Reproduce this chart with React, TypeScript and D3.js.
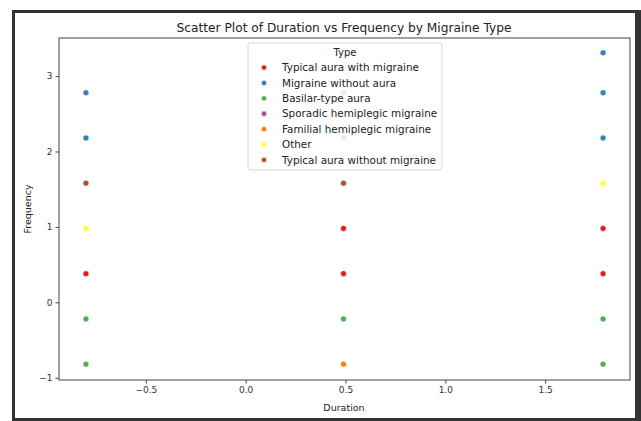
import React, { useEffect, useRef } from 'react';
import * as d3 from 'd3';

// legend categories, in seaborn hue order
const types = [
  'Typical aura with migraine',
  'Migraine without aura',
  'Basilar-type aura',
  'Sporadic hemiplegic migraine',
  'Familial hemiplegic migraine',
  'Other',
  'Typical aura without migraine',
];
const typeColors = ['#e41a1c', '#377eb8', '#4daf4a', '#984ea3', '#ff7f00', '#ffff33', '#a65628'];

// scaled values
const pointDuration = [
  -0.8, -0.8, -0.8, -0.8, -0.8, -0.8, -0.8,
  0.49, 0.49, 0.49, 0.49, 0.49, 0.49, 0.49,
  1.79, 1.79, 1.79, 1.79, 1.79, 1.79, 1.79, 1.79,
];
const pointFrequency = [
  2.78, 2.18, 1.58, 0.98, 0.38, -0.22, -0.82,
  2.78, 2.18, 1.58, 0.98, 0.38, -0.22, -0.82,
  3.31, 2.78, 2.18, 1.58, 0.98, 0.38, -0.22, -0.82,
];
const pointType = [
  1, 1, 6, 5, 0, 2, 2,
  1, 1, 6, 0, 0, 2, 4,
  1, 1, 1, 5, 0, 0, 2, 2,
];

const xTicks = [-0.5, 0.0, 0.5, 1.0, 1.5];
const yTicks = [-1, 0, 1, 2, 3];

export default function App() {
  const svgRef = useRef<SVGSVGElement>(null);

  useEffect(() => {
    const svg = d3.select(svgRef.current);
    svg.selectAll('*').remove();
    const font = 'DejaVu Sans, sans-serif';
    const axisCol = '#444';
    const left = 59, right = 630, top = 38, bottom = 380;

    // screenshot frame
    svg.append('rect').attr('width', 641).attr('height', 421).attr('fill', '#fff');
    svg.append('rect')
      .attr('x', 13.5).attr('y', 11.5).attr('width', 624).attr('height', 408)
      .attr('fill', 'none').attr('stroke', '#333').attr('stroke-width', 3);
    svg.append('rect').attr('x', 635).attr('y', 10).attr('width', 6).attr('height', 411).attr('fill', '#333');

    const x = d3.scaleLinear().domain([-0.935, 1.925]).range([left, right]);
    const y = d3.scaleLinear().domain([-1.03, 3.505]).range([bottom, top]);

    const xAxis = svg.append('g')
      .attr('transform', `translate(0,${bottom})`)
      .call(d3.axisBottom(x).tickValues(xTicks).tickFormat(d3.format('.1f')).tickSize(3.5).tickPadding(3));
    const yAxis = svg.append('g')
      .attr('transform', `translate(${left},0)`)
      .call(d3.axisLeft(y).tickValues(yTicks).tickFormat(d3.format('d')).tickSize(3.5).tickPadding(3));
    [xAxis, yAxis].forEach((g) => {
      g.select('.domain').remove();
      g.selectAll('line').attr('stroke', axisCol);
      g.selectAll('text')
        .attr('fill', '#333')
        .style('font-family', font)
        .style('font-size', '9px')
        .text(function () {
          return d3.select(this).text().replace('-', '\u2212');
        });
    });

    // points
    svg.append('g')
      .selectAll('circle')
      .data(pointDuration.map((d, i) => ({ d, f: pointFrequency[i], t: pointType[i] })))
      .enter()
      .append('circle')
      .attr('cx', (p) => x(p.d))
      .attr('cy', (p) => y(p.f))
      .attr('r', 3)
      .attr('fill', (p) => typeColors[p.t])
      .attr('stroke', '#fff')
      .attr('stroke-width', 0.6);

    // spines
    svg.append('rect')
      .attr('x', left).attr('y', top).attr('width', right - left).attr('height', bottom - top)
      .attr('fill', 'none').attr('stroke', axisCol).attr('stroke-width', 1);

    // title + labels
    svg.append('text')
      .attr('x', 344).attr('y', 32)
      .attr('text-anchor', 'middle')
      .style('font-family', font).style('font-size', '12.2px').attr('fill', '#222')
      .text('Scatter Plot of Duration vs Frequency by Migraine Type');
    svg.append('text')
      .attr('x', 344).attr('y', 411)
      .attr('text-anchor', 'middle')
      .style('font-family', font).style('font-size', '9.5px').attr('fill', '#222')
      .text('Duration');
    svg.append('text')
      .attr('transform', `translate(31,${(top + bottom) / 2}) rotate(-90)`)
      .attr('text-anchor', 'middle')
      .style('font-family', font).style('font-size', '9.5px').attr('fill', '#222')
      .text('Frequency');

    // legend
    const lg = svg.append('g');
    lg.append('rect')
      .attr('x', 248).attr('y', 43).attr('width', 194).attr('height', 127).attr('rx', 2)
      .attr('fill', '#fff').attr('fill-opacity', 0.85).attr('stroke', '#ccc').attr('stroke-width', 0.8);
    lg.append('text')
      .attr('x', 345).attr('y', 56).attr('text-anchor', 'middle')
      .style('font-family', font).style('font-size', '10px').attr('fill', '#222')
      .text('Type');
    types.forEach((t, i) => {
      const yy = 67.5 + i * 15.4;
      lg.append('circle').attr('cx', 264).attr('cy', yy).attr('r', 2.6)
        .attr('fill', typeColors[i]).attr('stroke', '#fff').attr('stroke-width', 0.5);
      lg.append('text')
        .attr('x', 282).attr('y', yy + 3.6)
        .style('font-family', font).style('font-size', '10.4px').attr('fill', '#222')
        .text(t);
    });
  }, []);

  return (
    <svg ref={svgRef} width={641} height={421}
      style={{ position: 'absolute', left: 0, top: 0, display: 'block' }} />
  );
}
